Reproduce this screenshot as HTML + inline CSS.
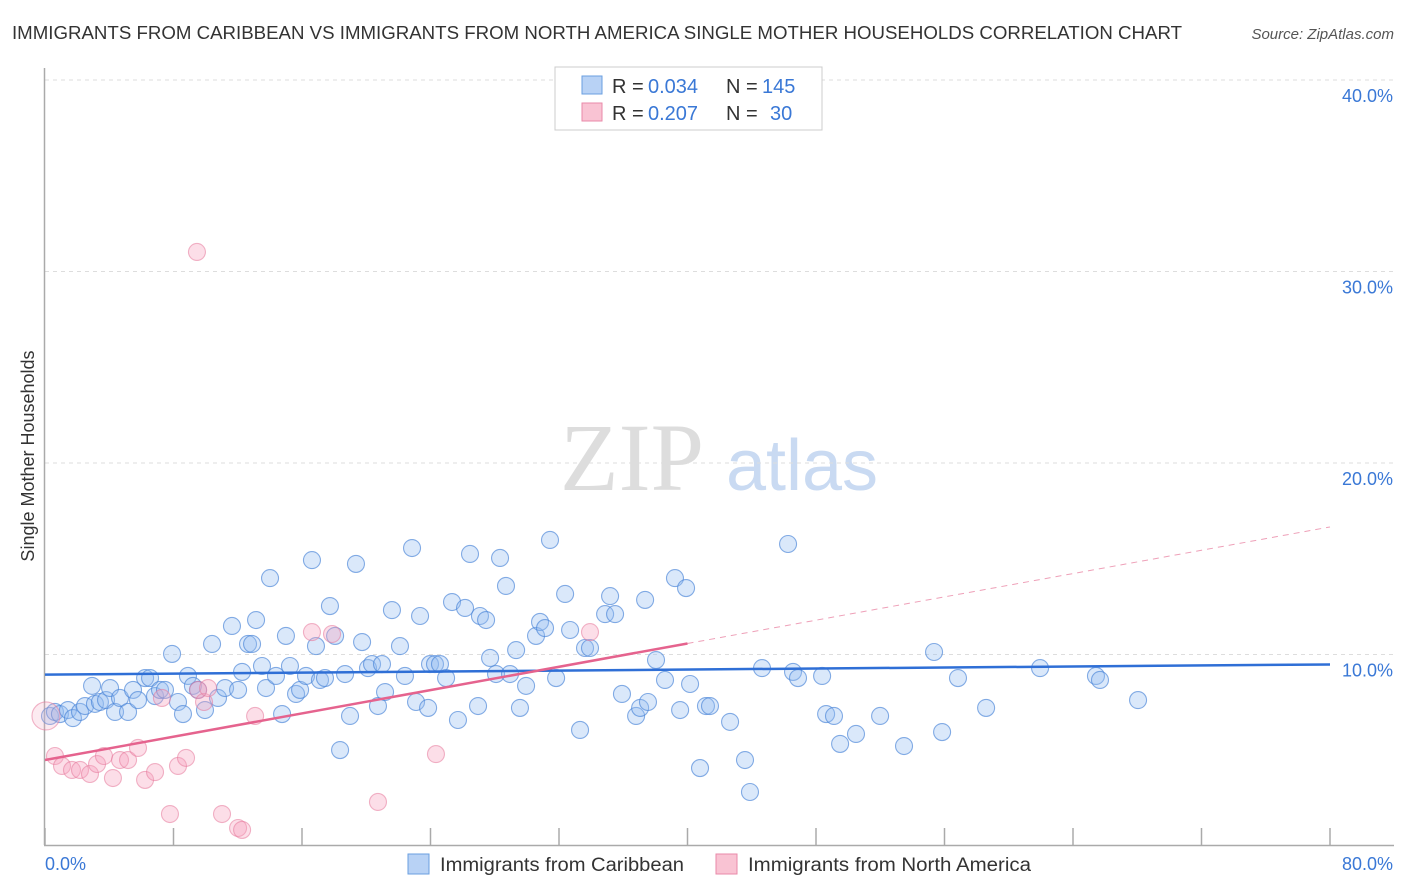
<!DOCTYPE html>
<html><head><meta charset="utf-8"><style>
body{margin:0;background:#fff;font-family:"Liberation Sans",sans-serif;}
#wrap{position:relative;width:1406px;height:892px;overflow:hidden;}
</style></head><body>
<div id="wrap">
<svg id="svg" width="1406" height="892" xmlns="http://www.w3.org/2000/svg">
<text x="12" y="39" font-size="18" fill="#333" textLength="1170" lengthAdjust="spacingAndGlyphs">IMMIGRANTS FROM CARIBBEAN VS IMMIGRANTS FROM NORTH AMERICA SINGLE MOTHER HOUSEHOLDS CORRELATION CHART</text>
<text x="1394" y="39" font-size="15" fill="#555" font-style="italic" text-anchor="end">Source: ZipAtlas.com</text>
<text transform="translate(34,456) rotate(-90)" font-size="18" fill="#333" text-anchor="middle">Single Mother Households</text>
<g><text x="632" y="490" font-size="96" fill="#ddd" font-family="Liberation Serif,serif" text-anchor="middle">ZIP</text><text x="802" y="490" font-size="72" fill="#c9daf2" text-anchor="middle">atlas</text></g>
<g id="grid"></g><g id="marks"></g>
<g>
<rect x="555" y="67" width="267" height="63" fill="#fff" stroke="#ccc"/>
<rect x="582" y="76" width="20" height="18" fill="#b8d2f5" stroke="#6a9fe0"/>
<rect x="582" y="103" width="20" height="18" fill="#f9c3d3" stroke="#e98aa8"/>
<text x="612" y="93" font-size="20" fill="#333">R =</text><text x="648" y="93" font-size="20" fill="#3a78d6">0.034</text>
<text x="726" y="93" font-size="20" fill="#333">N =</text><text x="762" y="93" font-size="20" fill="#3a78d6">145</text>
<text x="612" y="120" font-size="20" fill="#333">R =</text><text x="648" y="120" font-size="20" fill="#3a78d6">0.207</text>
<text x="726" y="120" font-size="20" fill="#333">N =</text><text x="770" y="120" font-size="20" fill="#3a78d6">30</text>
</g>
<g>
<rect x="408" y="854" width="21" height="20" fill="#b8d2f5" stroke="#6a9fe0"/>
<text x="440" y="871" font-size="19" fill="#333" textLength="244" lengthAdjust="spacingAndGlyphs">Immigrants from Caribbean</text>
<rect x="716" y="854" width="21" height="20" fill="#f9c3d3" stroke="#e98aa8"/>
<text x="748" y="871" font-size="19" fill="#333" textLength="283" lengthAdjust="spacingAndGlyphs">Immigrants from North America</text>
</g>
</svg></div>
<script>
const xTicksPct=[0,10,20,30,40,50,60,70,80];
const yTicks=[10,20,30,40];
const yTickLabels=["10.0%","20.0%","30.0%","40.0%"];
const blueX=[0.31,0.62,0.93,1.43,1.74,2.18,2.49,2.93,3.11,3.42,3.80,4.05,4.36,4.67,5.17,5.48,5.79,6.23,6.54,6.85,7.16,7.47,7.91,8.28,8.59,8.90,9.21,9.53,9.96,10.40,10.77,11.21,11.64,12.02,12.27,12.64,12.89,13.14,13.51,13.76,14.01,14.38,14.76,15.00,15.25,15.63,15.88,16.25,16.62,16.87,17.12,17.43,17.74,18.06,18.37,18.68,18.99,19.36,19.74,20.11,20.36,20.73,20.98,21.17,21.60,22.10,22.41,22.85,23.10,23.35,23.85,23.97,24.28,24.59,24.97,25.34,25.71,26.15,26.46,26.96,27.08,27.46,27.71,28.08,28.33,28.70,28.95,29.33,29.57,29.95,30.57,30.82,31.13,31.44,31.82,32.38,32.69,33.31,33.62,33.93,34.87,35.18,35.49,35.92,36.80,37.05,37.36,37.54,38.04,38.60,39.22,39.54,39.91,40.16,40.78,41.15,41.40,42.65,43.58,43.89,44.64,46.26,46.57,46.88,48.38,48.63,49.12,49.50,50.49,51.99,53.48,55.35,55.85,56.84,58.59,61.95,65.43,65.68,68.05];
const blueY=[6.79,7.00,6.89,7.10,6.68,7.00,7.31,8.36,7.42,7.52,7.62,8.25,7.00,7.73,7.00,8.15,7.62,8.77,8.77,7.83,8.15,8.15,10.03,7.52,6.89,8.88,8.36,8.15,7.10,10.55,7.73,8.25,11.49,8.15,9.09,10.55,10.55,11.80,9.40,8.25,13.99,8.88,6.89,10.97,9.40,7.94,8.15,8.88,14.93,10.44,8.67,8.77,12.53,10.97,5.01,8.98,6.79,14.73,10.65,9.29,9.50,7.31,9.50,8.04,12.32,10.44,8.88,15.56,7.52,12.01,7.21,9.50,9.50,9.50,8.77,12.74,6.58,12.43,15.25,7.31,12.01,11.80,9.82,8.98,15.04,13.58,8.98,10.23,7.21,8.36,10.97,11.70,11.38,15.98,8.77,13.16,11.28,6.06,10.34,10.34,12.11,13.05,12.11,7.94,6.79,7.21,12.85,7.52,9.71,8.67,13.99,7.10,13.47,8.46,4.07,7.31,7.31,6.48,4.49,2.82,9.29,15.77,9.09,8.77,8.88,6.89,6.79,5.33,5.85,6.79,5.22,10.13,5.95,8.77,7.21,9.29,8.88,8.67,7.62];
const pinkX=[0.06,0.62,1.06,1.68,2.18,2.80,3.24,3.67,4.23,4.67,5.17,5.79,6.23,6.85,7.28,7.78,8.28,8.78,9.46,9.53,9.90,10.15,11.02,12.02,12.27,13.08,16.62,17.87,20.73,24.34,33.93];
const pinkY=[6.79,4.70,4.18,3.97,3.97,3.76,4.28,4.70,3.55,4.49,4.49,5.12,3.45,3.86,7.73,1.67,4.18,4.60,31.02,8.15,7.52,8.25,1.67,0.94,0.84,6.79,11.17,11.07,2.30,4.80,11.17];
const blueLine=[8.95,9.48];
const pinkLine=[4.49,16.66];
const pinkSolidEnd=40;
const NS="http://www.w3.org/2000/svg";
const X=v=>45+v/80*1285, Y=v=>846-v*19.15;
function mk(t,a,p){const e=document.createElementNS(NS,t);for(const k in a)e.setAttribute(k,a[k]);p.appendChild(e);return e;}
const grid=document.getElementById('grid'),marks=document.getElementById('marks');
yTicks.forEach((v,i)=>{
 const l=mk('line',{x1:45,x2:1394,y1:Y(v),y2:Y(v),stroke:'#ddd','stroke-dasharray':'4,4'},grid);
 
 const t=mk('text',{x:1393,y:Y(v)+22,'font-size':18,fill:'#3a78d6','text-anchor':'end'},grid);t.textContent=yTickLabels[i];
 
});
let ax=mk('line',{x1:44.5,x2:44.5,y1:68,y2:845,stroke:'#aaa','stroke-width':1.5},grid);

ax=mk('line',{x1:44,x2:1394,y1:845.5,y2:845.5,stroke:'#aaa','stroke-width':1.5},grid);

for(let v=0;v<=80;v+=8){const t=mk('line',{x1:X(v),x2:X(v),y1:828,y2:845,stroke:'#aaa','stroke-width':1.5},grid);
 }
let tl=mk('text',{x:45,y:870,'font-size':18,fill:'#3a78d6'},grid);tl.textContent="0.0%";

tl=mk('text',{x:1393,y:870,'font-size':18,fill:'#3a78d6','text-anchor':'end'},grid);tl.textContent="80.0%";

blueX.forEach((x,i)=>{const c=mk('circle',{cx:X(x),cy:Y(blueY[i]),r:8.5,fill:'rgba(150,190,240,0.35)',stroke:'rgba(70,130,215,0.65)','stroke-width':1.1},marks);
 });
pinkX.forEach((x,i)=>{const c=mk('circle',{cx:X(x),cy:Y(pinkY[i]),r:i===0?14:8.5,fill:i===0?'rgba(245,170,195,0.25)':'rgba(245,160,188,0.35)',stroke:'rgba(230,120,155,0.55)','stroke-width':1.1},marks);
 });
let ln=mk('line',{x1:X(0),x2:X(80),y1:Y(blueLine[0]),y2:Y(blueLine[1]),stroke:'#2f6fd6','stroke-width':2.5},marks);

const pm=x=>pinkLine[0]+(pinkLine[1]-pinkLine[0])*x/80;
ln=mk('line',{x1:X(0),x2:X(pinkSolidEnd),y1:Y(pm(0)),y2:Y(pm(pinkSolidEnd)),stroke:'#e5638e','stroke-width':2.5},marks);

ln=mk('line',{x1:X(pinkSolidEnd),x2:X(80),y1:Y(pm(pinkSolidEnd)),y2:Y(pm(80)),stroke:'#eea0b8','stroke-width':1,'stroke-dasharray':'6,5'},marks);

</script>
</body></html>
